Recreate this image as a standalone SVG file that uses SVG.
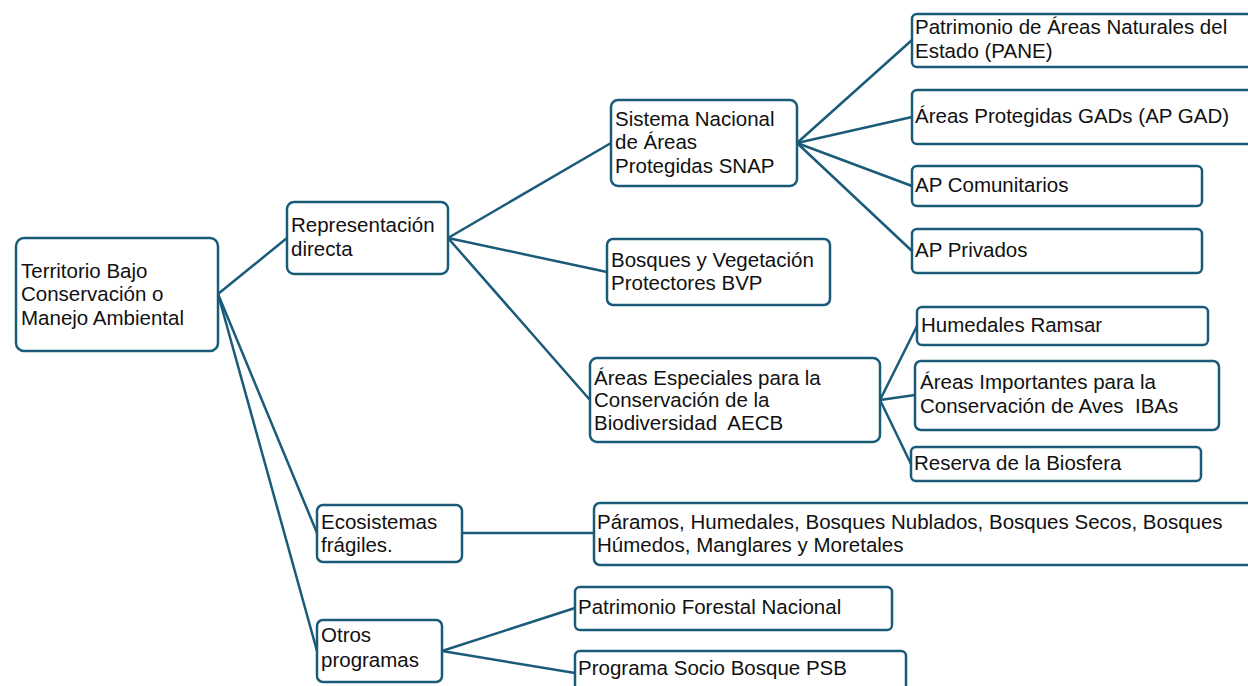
<svg xmlns="http://www.w3.org/2000/svg" width="1248" height="686" viewBox="0 0 1248 686">
<style>
.box{fill:#ffffff;stroke:#1b5b7a;stroke-width:2.5}
.t{font-family:"Liberation Sans",Arial,sans-serif;font-size:20.5px;fill:#111111;white-space:pre}
.c{stroke:#1b5b7a;stroke-width:2.5;fill:none;stroke-linecap:round}
</style>
<rect width="1248" height="686" fill="#ffffff"/>
<g id="connectors">
<line class="c" x1="218" y1="294" x2="287" y2="238"/>
<line class="c" x1="218" y1="294" x2="317" y2="533"/>
<line class="c" x1="218" y1="294" x2="317" y2="651"/>
<line class="c" x1="448" y1="238" x2="611" y2="143"/>
<line class="c" x1="448" y1="238" x2="607" y2="272"/>
<line class="c" x1="448" y1="238" x2="590" y2="400"/>
<line class="c" x1="797" y1="143" x2="912" y2="40"/>
<line class="c" x1="797" y1="143" x2="912" y2="117"/>
<line class="c" x1="797" y1="143" x2="912" y2="186"/>
<line class="c" x1="797" y1="143" x2="912" y2="251"/>
<line class="c" x1="880" y1="400" x2="917" y2="326"/>
<line class="c" x1="880" y1="400" x2="915" y2="395"/>
<line class="c" x1="880" y1="400" x2="911" y2="464"/>
<line class="c" x1="462" y1="533" x2="594" y2="533"/>
<line class="c" x1="442" y1="651" x2="575" y2="608"/>
<line class="c" x1="442" y1="651" x2="575" y2="673"/>
</g>
<g id="n-territorio">
<rect class="box" x="16" y="238" width="202" height="113" rx="8"/>
<text class="t"><tspan x="21" y="278">Territorio Bajo</tspan><tspan x="21" y="301">Conservación o</tspan><tspan x="21" y="325">Manejo Ambiental</tspan></text>
</g>
<g id="n-representacion">
<rect class="box" x="287" y="202" width="161" height="72" rx="7"/>
<text class="t"><tspan x="291" y="232">Representación</tspan><tspan x="291" y="256">directa</tspan></text>
</g>
<g id="n-snap">
<rect class="box" x="611" y="100" width="186" height="86" rx="7"/>
<text class="t"><tspan x="615" y="126">Sistema Nacional</tspan><tspan x="615" y="149">de Áreas</tspan><tspan x="615" y="173">Protegidas SNAP</tspan></text>
</g>
<g id="n-pane">
<rect class="box" x="912" y="14" width="345" height="53" rx="5"/>
<text class="t"><tspan x="915" y="34">Patrimonio de Áreas Naturales del</tspan><tspan x="915" y="58">Estado (PANE)</tspan></text>
</g>
<g id="n-apgad">
<rect class="box" x="912" y="90" width="345" height="54" rx="5"/>
<text class="t" x="915" y="123">Áreas Protegidas GADs (AP GAD)</text>
</g>
<g id="n-apcom">
<rect class="box" x="912" y="166" width="290" height="40" rx="5"/>
<text class="t" x="915" y="192">AP Comunitarios</text>
</g>
<g id="n-appriv">
<rect class="box" x="912" y="229" width="290" height="44" rx="5"/>
<text class="t" x="915" y="257">AP Privados</text>
</g>
<g id="n-bvp">
<rect class="box" x="607" y="239" width="223" height="66" rx="6"/>
<text class="t"><tspan x="611" y="267">Bosques y Vegetación</tspan><tspan x="611" y="290">Protectores BVP</tspan></text>
</g>
<g id="n-aecb">
<rect class="box" x="590" y="358" width="290" height="84" rx="7"/>
<text class="t"><tspan x="594" y="385">Áreas Especiales para la</tspan><tspan x="594" y="407">Conservación de la</tspan><tspan x="594" y="430">Biodiversidad  AECB</tspan></text>
</g>
<g id="n-ramsar">
<rect class="box" x="917" y="307" width="291" height="38" rx="5"/>
<text class="t" x="921" y="332">Humedales Ramsar</text>
</g>
<g id="n-ibas">
<rect class="box" x="915" y="361" width="304" height="69" rx="6"/>
<text class="t"><tspan x="920" y="389">Áreas Importantes para la</tspan><tspan x="920" y="413">Conservación de Aves  IBAs</tspan></text>
</g>
<g id="n-biosfera">
<rect class="box" x="911" y="447" width="290" height="34" rx="5"/>
<text class="t" x="914" y="470">Reserva de la Biosfera</text>
</g>
<g id="n-ecosistemas">
<rect class="box" x="317" y="505" width="145" height="57" rx="6"/>
<text class="t"><tspan x="321" y="529">Ecosistemas</tspan><tspan x="321" y="552">frágiles.</tspan></text>
</g>
<g id="n-paramos">
<rect class="box" x="594" y="503" width="665" height="62" rx="6"/>
<text class="t"><tspan x="597" y="529">Páramos, Humedales, Bosques Nublados, Bosques Secos, Bosques</tspan><tspan x="597" y="552">Húmedos, Manglares y Moretales</tspan></text>
</g>
<g id="n-otros">
<rect class="box" x="317" y="620" width="125" height="62" rx="6"/>
<text class="t"><tspan x="321" y="642">Otros</tspan><tspan x="321" y="667">programas</tspan></text>
</g>
<g id="n-pfn">
<rect class="box" x="575" y="587" width="317" height="43" rx="5"/>
<text class="t" x="578" y="614">Patrimonio Forestal Nacional</text>
</g>
<g id="n-psb">
<rect class="box" x="575" y="651" width="331" height="45" rx="5"/>
<text class="t" x="578" y="675">Programa Socio Bosque PSB</text>
</g>
</svg>
